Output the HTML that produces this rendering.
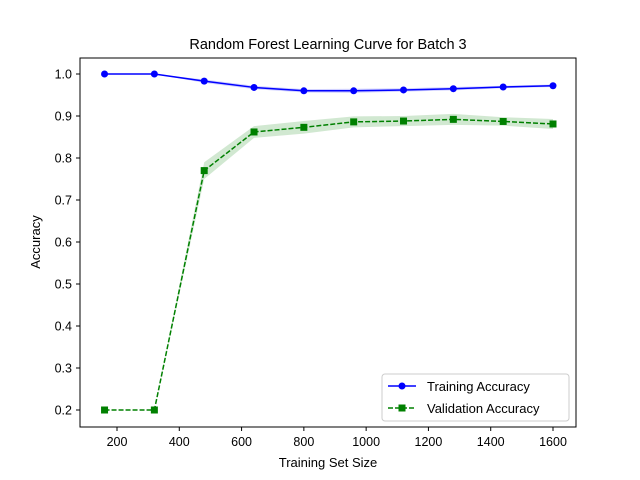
<!DOCTYPE html>
<html><head><meta charset="utf-8"><style>
body{margin:0;background:#fff;}
svg{display:block;font-family:"Liberation Sans","DejaVu Sans",sans-serif;}
</style></head><body>
<svg id="chart" width="640" height="480">
<rect x="0" y="0" width="640" height="480" fill="#fff"/>
<text x="328" y="49" text-anchor="middle" font-size="14.5">Random Forest Learning Curve for Batch 3</text>
<g id="bands"></g><g id="lines"></g><g id="axes"></g>
<rect x="80" y="58" width="496" height="369" fill="none" stroke="#000" stroke-width="1"/>
<text x="328" y="467" text-anchor="middle" font-size="13">Training Set Size</text>
<text x="40" y="242" text-anchor="middle" font-size="13" transform="rotate(-90 40 242)">Accuracy</text>
<g>
<rect x="382" y="374" width="187" height="47" rx="3" fill="#fff" stroke="#ccc"/>
<g>
<line x1="388" y1="386" x2="416" y2="386" stroke="blue" stroke-width="1.5"/><circle cx="402" cy="386" r="3.5" fill="blue"/>
<text x="427" y="391" font-size="13">Training Accuracy</text></g>
<g>
<line x1="388" y1="408" x2="416" y2="408" stroke="green" stroke-width="1.5" stroke-dasharray="5,2"/><rect x="398.5" y="404.5" width="7" height="7" fill="green"/>
<text x="427" y="413" font-size="13">Validation Accuracy</text></g>
</g>
</svg>
<script>
const sizes=[160,320,480,640,800,960,1120,1280,1440,1600];
const trainAcc=[1.0,1.0,0.983,0.968,0.96,0.96,0.962,0.965,0.969,0.972];
const trainStd=[0,0,0.004,0.004,0.004,0.005,0.004,0.004,0.003,0.003];
const valAcc=[0.2,0.2,0.77,0.862,0.873,0.886,0.888,0.892,0.887,0.881];
const valStd=[0,0,0.02,0.014,0.015,0.013,0.012,0.013,0.01,0.012];
const xTicks=[200,400,600,800,1000,1200,1400,1600];
const yTicks=[0.2,0.3,0.4,0.5,0.6,0.7,0.8,0.9,1.0];
const NS="http://www.w3.org/2000/svg";
const X=v=>117+(v-200)*(436/1400);
const Y=v=>410-(v-0.2)*420;
function mk(tag,attrs,parent){const e=document.createElementNS(NS,tag);for(const k in attrs)e.setAttribute(k,attrs[k]);parent.appendChild(e);return e;}
const axes=document.getElementById('axes'),bands=document.getElementById('bands'),lines=document.getElementById('lines');
xTicks.forEach(t=>{const g=mk('g',{},axes);


mk('line',{x1:X(t),x2:X(t),y1:427,y2:431,stroke:'#000'},g);
const tx=mk('text',{x:X(t),y:446,'text-anchor':'middle','font-size':'12.5'},g);tx.textContent=t;});
yTicks.forEach(t=>{const g=mk('g',{},axes);


mk('line',{x1:76,x2:80,y1:Y(t),y2:Y(t),stroke:'#000'},g);
const tx=mk('text',{x:72,y:Y(t)+4.5,'text-anchor':'end','font-size':'12.5'},g);tx.textContent=t.toFixed(1);});
function band(vals,std,color,name){let up=sizes.map((s,i)=>X(s)+','+Y(vals[i]+std[i]));let dn=sizes.map((s,i)=>X(s)+','+Y(vals[i]-std[i])).reverse();
const p=mk('polygon',{points:up.concat(dn).join(' '),fill:color,'fill-opacity':0.18},bands);

}
band(trainAcc,trainStd,'blue','training-band');band(valAcc,valStd,'green','validation-band');
const pl1=mk('polyline',{points:sizes.map((s,i)=>X(s)+','+Y(trainAcc[i])).join(' '),fill:'none',stroke:'blue','stroke-width':1.5},lines);


const pl2=mk('polyline',{points:sizes.map((s,i)=>X(s)+','+Y(valAcc[i])).join(' '),fill:'none',stroke:'green','stroke-width':1.5,'stroke-dasharray':'5,2'},lines);


sizes.forEach((s,i)=>{const c=mk('circle',{cx:X(s),cy:Y(trainAcc[i]),r:3.5,fill:'blue'},lines);


const r=mk('rect',{x:X(s)-3.5,y:Y(valAcc[i])-3.5,width:7,height:7,fill:'green'},lines);

});
</script>
</body></html>
